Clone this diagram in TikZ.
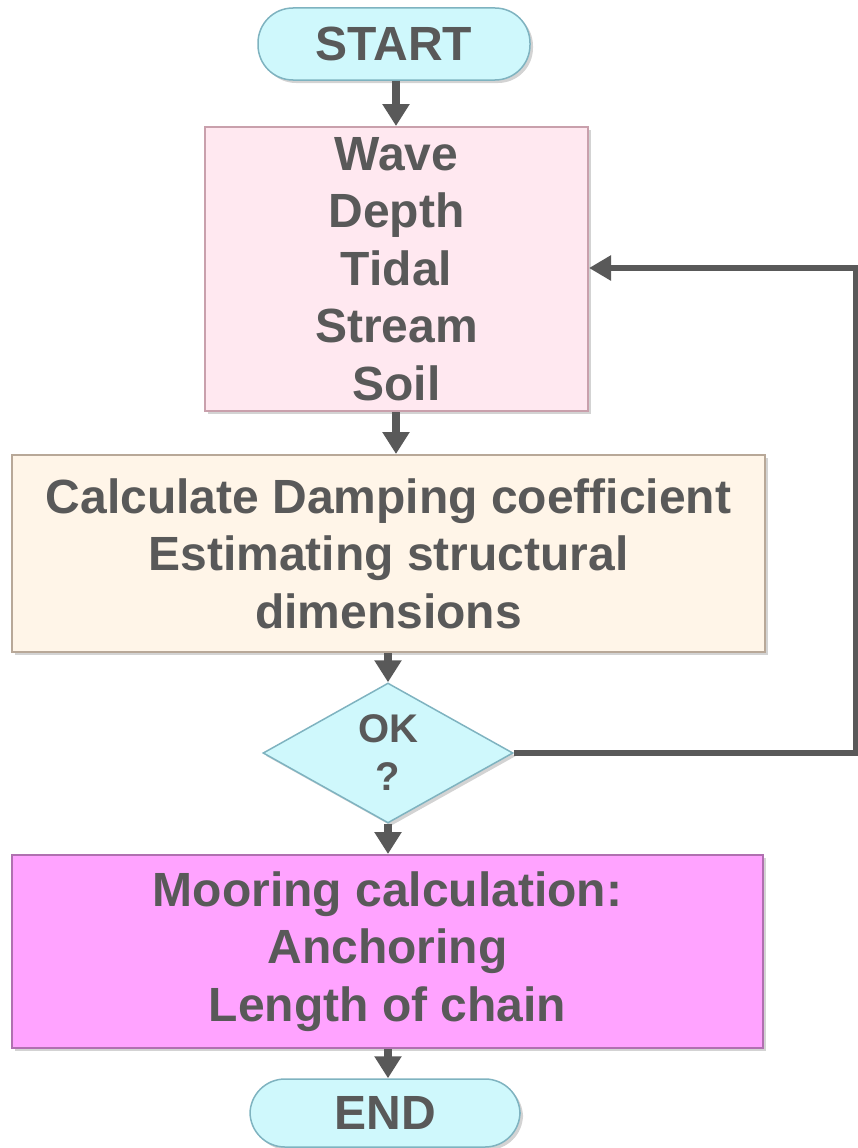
\documentclass[tikz,border=0pt]{standalone}
\usepackage{fontspec}
\setmainfont{Liberation Sans}
\usetikzlibrary{arrows.meta,shapes.geometric,shadows}
\definecolor{txt}{HTML}{595959}
\definecolor{cyanfill}{HTML}{CFF8FC}
\definecolor{cyanline}{HTML}{7FB3C0}
\definecolor{pinkfill}{HTML}{FFE8F0}
\definecolor{pinkline}{HTML}{C9A0AC}
\definecolor{beigefill}{HTML}{FFF5E8}
\definecolor{beigeline}{HTML}{B8A898}
\definecolor{magfill}{HTML}{FFA3FF}
\definecolor{magline}{HTML}{B070B0}
\tikzset{
  every node/.style={text=txt, font=\fontsize{48}{57.5}\selectfont\bfseries, align=center, inner sep=0pt},
  pill/.style={rectangle, rounded corners=35pt, fill=cyanfill, draw=cyanline, line width=1.5pt,
     drop shadow={shadow xshift=3pt, shadow yshift=-3pt, opacity=0.35}},
  boxnode/.style={rectangle, line width=2pt,
     drop shadow={shadow xshift=3pt, shadow yshift=-3pt, opacity=0.35}},
  decision/.style={diamond, fill=cyanfill, draw=cyanline, line width=1.5pt, aspect=1.7857,
     minimum width=250pt, minimum height=140pt,
     font=\fontsize{40}{48}\selectfont\bfseries,
     drop shadow={shadow xshift=3pt, shadow yshift=-3pt, opacity=0.35}},
  flow/.style={draw=txt, line width=8pt, -{Triangle[width=26pt,length=22pt]}},
  back/.style={draw=txt, line width=6pt, -{Triangle[width=24pt,length=22pt]}}
}
\begin{document}
\begin{tikzpicture}[x=1pt,y=-1pt]
\useasboundingbox (0,0) rectangle (858,1148);
\node[pill, minimum width=272pt, minimum height=72pt] (start) at (394,44) {START};
\node[boxnode, fill=pinkfill, draw=pinkline, minimum width=383pt, minimum height=284pt] (input) at (396.5,269) {Wave\\Depth\\Tidal\\Stream\\Soil};
\node[boxnode, fill=beigefill, draw=beigeline, minimum width=753pt, minimum height=197pt] (calc) at (388.5,553.5) {Calculate Damping coefficient\\Estimating structural\\dimensions};
\node[decision] (ok) at (388,753) {OK\\?};
\node[boxnode, fill=magfill, draw=magline, minimum width=751pt, minimum height=193pt] (moor) at (387.5,951.5) {Mooring calculation:\\Anchoring\\Length of chain};
\node[pill, minimum width=270pt, minimum height=68pt] (end) at (385,1113) {END};
\coordinate (c1) at (856,753);
\coordinate (c2) at (856,268);
\draw[flow] (start.south -| 396,0) -- (input.north -| 396,0);
\draw[flow] (input.south -| 396,0) -- (calc.north -| 396,0);
\draw[flow] (calc.south -| ok.north) -- (ok.north);
\draw[flow] (ok.south) -- (moor.north -| ok.south);
\draw[flow] (moor.south -| 388,0) -- (end.north -| 388,0);
\draw[back] (ok.east) -- (c1) -- (c2) -- (c2 -| input.east);
\end{tikzpicture}
\end{document}
